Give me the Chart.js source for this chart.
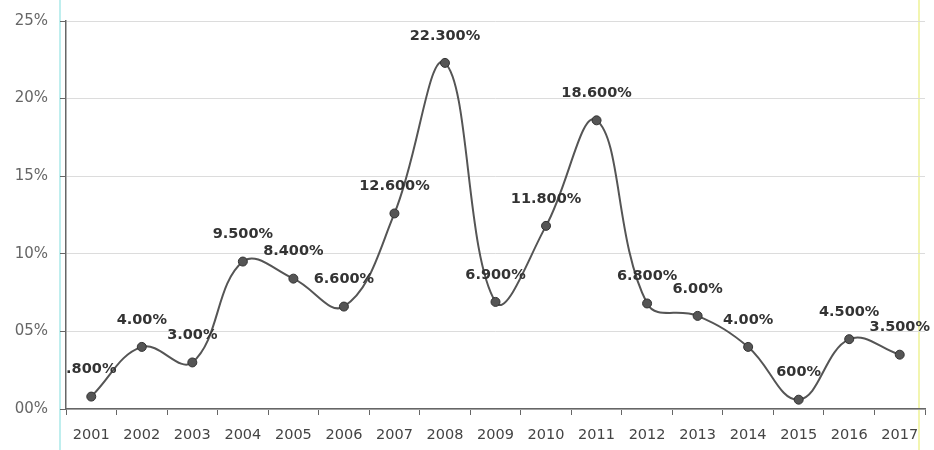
<!DOCTYPE html>
<html>
<head>
<meta charset="utf-8">
<script src="https://cdn.jsdelivr.net/npm/chart.js@4"></script>
<style>
html,body{margin:0;padding:0;background:#fff;}
#box{width:934px;height:450px;position:relative;}
</style>
</head>
<body>
<div id="box"><canvas id="grafico"></canvas></div>
<script>
// anos e taxas (%)
const anos = ["2001","2002","2003","2004","2005","2006","2007","2008","2009","2010","2011","2012","2013","2014","2015","2016","2017"];
const taxas = [0.8, 4.0, 3.0, 9.5, 8.4, 6.6, 12.6, 22.3, 6.9, 11.8, 18.6, 6.8, 6.0, 4.0, 0.6, 4.5, 3.5];
const rotulos = [".800%","4.00%","3.00%","9.500%","8.400%","6.600%","12.600%","22.300%","6.900%","11.800%","18.600%","6.800%","6.00%","4.00%","600%","4.500%","3.500%"];
const marcasY = ["00%","05%","10%","15%","20%","25%"];

// escreve o rotulo acima de cada ponto
const rotulosPlugin = {
id:"rotulos",
afterDatasetsDraw(chart){
const c = chart.ctx;
const meta = chart.getDatasetMeta(0);
c.save();
c.font = "bold 14.5px 'DejaVu Sans', sans-serif";
c.fillStyle = "#333";
c.textAlign = "center";
c.textBaseline = "middle";
meta.data.forEach((p,i)=>{
c.fillText(rotulos[i], p.x, p.y - 27);
});
c.restore();
}
};

// linhas de borda da digitalizacao
const bordasPlugin = {
id:"bordas",
beforeDraw(chart){
const c = chart.ctx;
c.save();
c.fillStyle = "#fff";
c.fillRect(0,0,chart.width,chart.height);
c.strokeStyle = "#bfeeee";
c.lineWidth = 2;
c.beginPath(); c.moveTo(60,0); c.lineTo(60,chart.height); c.stroke();
c.strokeStyle = "#f2f5b0";
c.beginPath(); c.moveTo(919,0); c.lineTo(919,chart.height); c.stroke();
c.restore();
}
};

const ctx = document.getElementById("grafico");

new Chart(ctx,{
type:"line",
data:{
labels:anos,
datasets:[{
data:taxas,
borderColor:"#555",
borderWidth:2,
tension:0.4,
pointRadius:4.5,
pointBackgroundColor:"#555",
pointBorderColor:"#333",
pointBorderWidth:1
}]
},
options:{
responsive:true,
maintainAspectRatio:false,
animation:false,
layout:{padding:{top:19,right:9,left:0,bottom:0}},
plugins:{
legend:{display:false},
tooltip:{enabled:false}
},
scales:{
x:{
offset:true,
grid:{
offset:true,
drawOnChartArea:false,
drawTicks:true,
tickLength:6,
color:"#666"
},
border:{color:"#666",width:1.5},
ticks:{
color:"#444",
font:{family:"'DejaVu Sans', sans-serif",size:14.5},
padding:12,
maxRotation:0
},
afterFit(s){ s.height = 41; }
},
y:{
min:0,
max:25,
ticks:{
stepSize:5,
color:"#666",
font:{family:"'DejaVu Sans', sans-serif",size:15},
padding:12,
callback:(v,i)=>marcasY[i]
},
grid:{
color:"#dcdcdc",
tickLength:6,
tickColor:"#666"
},
border:{color:"#666",width:1.5},
afterFit(s){ s.width = 66; }
}
}
},
plugins:[bordasPlugin, rotulosPlugin]
});
</script>
</body>
</html>
